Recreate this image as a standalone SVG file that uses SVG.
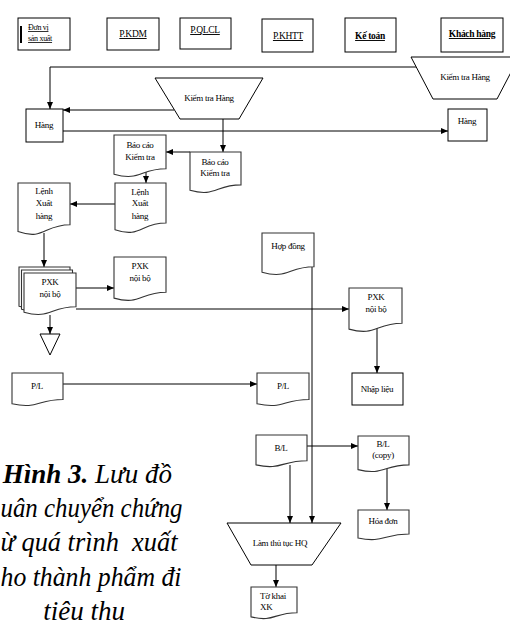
<svg xmlns="http://www.w3.org/2000/svg" width="510" height="626" viewBox="0 0 510 626">
  <style>
    .box { fill: #fff; stroke: #000; stroke-width: 1; }
    .doc { fill: #fff; stroke: #333; stroke-width: 1.1; }
    .lbl { font-family: "Liberation Serif", "Times New Roman", serif; font-size: 9px; fill: #000; text-anchor: middle; letter-spacing: -0.3px; }
    .hd { font-family: "Liberation Serif", "Times New Roman", serif; font-size: 9.5px; fill: #000; text-anchor: middle; text-decoration: underline; letter-spacing: -0.3px; }
    .bold { font-weight: bold; }
    .cap { font-family: "Liberation Serif", "Times New Roman", serif; font-size: 27px; font-style: italic; fill: #000; text-anchor: end; white-space: pre; }
    .cap-l { text-anchor: start; }
    .wire { fill: none; stroke: #000; stroke-width: 1; }
  </style>
  <defs>
    <marker id="ah" viewBox="0 0 10 10" refX="10" refY="5" markerWidth="7" markerHeight="6" markerUnits="userSpaceOnUse" orient="auto" preserveAspectRatio="none">
      <path d="M0,0 L10,5 L0,10 Z" fill="#000"/>
    </marker>
  </defs>

  <!-- department header boxes -->
  <g id="dv-san-xuat">
    <rect class="box" x="18" y="18" width="52" height="32"/>
    <rect x="20" y="26" width="2" height="17" fill="#000"/>
    <text class="hd" style="font-size:8px;text-anchor:start" x="28" y="30">Đơn vị</text>
    <text class="hd" style="font-size:8px;text-anchor:start" x="28" y="41">sản xuất</text>
  </g>
  <g id="p-kdm">
    <rect class="box" x="107" y="18" width="52" height="32"/>
    <text class="hd" x="133" y="37">P.KDM</text>
  </g>
  <g id="p-qlcl">
    <rect class="box" x="180" y="18" width="51" height="31"/>
    <text class="hd" x="205" y="33">P.QLCL</text>
  </g>
  <g id="p-khtt">
    <rect class="box" x="262" y="19" width="51" height="33"/>
    <text class="hd" x="288" y="39">P.KHTT</text>
  </g>
  <g id="ke-toan">
    <rect class="box" x="345" y="18" width="51" height="34"/>
    <text class="hd bold" x="370" y="39">Kế toán</text>
  </g>
  <g id="khach-hang">
    <rect class="box" x="441" y="18" width="62" height="34"/>
    <text class="hd bold" x="472" y="37">Khách hàng</text>
  </g>

  <!-- connectors -->
  <g id="connectors" class="wire">
    <path d="M416,67 H50 V109" marker-end="url(#ah)"/>
    <path d="M174,110 H63" marker-end="url(#ah)"/>
    <path d="M63,131 H448" marker-end="url(#ah)"/>
    <path d="M223,119 V152" marker-end="url(#ah)"/>
    <path d="M190,152 H166" marker-end="url(#ah)"/>
    <path d="M146,172 V183" marker-end="url(#ah)"/>
    <path d="M115,204 H70" marker-end="url(#ah)"/>
    <path d="M44,233 V267" marker-end="url(#ah)"/>
    <path d="M76,288 H114" marker-end="url(#ah)"/>
    <path d="M76,309 H349" marker-end="url(#ah)"/>
    <path d="M50,315 V334" marker-end="url(#ah)"/>
    <path d="M377,328 V373" marker-end="url(#ah)"/>
    <path d="M312,267 V523" marker-end="url(#ah)"/>
    <path d="M63,384 H257" marker-end="url(#ah)"/>
    <path d="M307,446 H358" marker-end="url(#ah)"/>
    <path d="M290,465 V523" marker-end="url(#ah)"/>
    <path d="M387,469 V510" marker-end="url(#ah)"/>
    <path d="M276,565 V587" marker-end="url(#ah)"/>
  </g>

  <!-- process nodes -->
  <g id="kiem-tra-kh">
    <polygon class="box" points="411,57 519,57 497,99 433,99"/>
    <text class="lbl" x="465" y="80">Kiểm tra Hàng</text>
  </g>
  <g id="kiem-tra">
    <polygon class="box" points="155,78 263,78 239,119 180,119"/>
    <text class="lbl" x="209" y="101">Kiểm tra Hàng</text>
  </g>
  <g id="hang-sx">
    <rect class="box" x="26" y="109" width="37" height="33"/>
    <text class="lbl" x="44" y="128">Hàng</text>
  </g>
  <g id="hang-kh">
    <rect class="box" x="448" y="109" width="39" height="32"/>
    <text class="lbl" x="467" y="124">Hàng</text>
  </g>

  <!-- documents: straight top, wavy bottom -->
  <g id="bao-cao-1">
    <path class="doc" d="M114,135 H166 V168.7 C140,168.7 140,181.5 114,174.2 Z"/>
    <text class="lbl" x="140" y="148">Báo cáo</text>
    <text class="lbl" x="140" y="160">Kiểm tra</text>
  </g>
  <g id="bao-cao-2">
    <path class="doc" d="M190,152 H241 V184.9 C215.5,184.9 215.5,197.4 190,190.3 Z"/>
    <text class="lbl" x="215" y="165">Báo cáo</text>
    <text class="lbl" x="215" y="176">Kiểm tra</text>
  </g>
  <g id="lenh-xh-2">
    <path class="doc" d="M115,183 H166 V223 C140.5,223 140.5,238.4 115,229.7 Z"/>
    <text class="lbl" x="140" y="195">Lệnh</text>
    <text class="lbl" x="140" y="206">Xuất</text>
    <text class="lbl" x="140" y="219">hàng</text>
  </g>
  <g id="lenh-xh-1">
    <path class="doc" d="M18,183 H70 V224.7 C44,224.7 44,240.6 18,231.6 Z"/>
    <text class="lbl" x="44" y="194">Lệnh</text>
    <text class="lbl" x="44" y="206">Xuất</text>
    <text class="lbl" x="44" y="219">hàng</text>
  </g>
  <g id="pxk-stack">
    <path class="doc" d="M19,267 H70 V300.7 C44.5,300.7 44.5,313.5 19,306.2 Z"/>
    <path class="doc" d="M21.5,270 H72.5 V303.7 C47,303.7 47,316.5 21.5,309.2 Z"/>
    <path class="doc" d="M24,273 H76 V306.7 C50,306.7 50,319.5 24,312.2 Z"/>
    <text class="lbl" x="50" y="285">PXK</text>
    <text class="lbl" x="50" y="297">nội bộ</text>
  </g>
  <g id="pxk-2">
    <path class="doc" d="M114,257 H166 V292.3 C140,292.3 140,305.7 114,298.1 Z"/>
    <text class="lbl" x="140" y="269">PXK</text>
    <text class="lbl" x="140" y="281">nội bộ</text>
  </g>
  <g id="luu-tru">
    <polygon class="box" points="40,334 60,334 50,355"/>
  </g>
  <g id="hop-dong">
    <path class="doc" d="M262,233 H314 V266.7 C288,266.7 288,279.5 262,272.2 Z"/>
    <text class="lbl" x="288" y="249">Hợp đồng</text>
  </g>
  <g id="pxk-3">
    <path class="doc" d="M349,288 H402 V323.3 C375.5,323.3 375.5,336.7 349,329.1 Z"/>
    <text class="lbl" x="376" y="300">PXK</text>
    <text class="lbl" x="376" y="312">nội bộ</text>
  </g>
  <g id="nhap-lieu">
    <rect class="box" x="352" y="373" width="51" height="32"/>
    <text class="lbl" x="377" y="392">Nhập liệu</text>
  </g>
  <g id="pl-1">
    <path class="doc" d="M12,373 H63 V399.5 C37.5,399.5 37.5,409.5 12,403.8 Z"/>
    <text class="lbl" x="37" y="389">P/L</text>
  </g>
  <g id="pl-2">
    <path class="doc" d="M257,373 H309 V399.5 C283,399.5 283,409.5 257,403.8 Z"/>
    <text class="lbl" x="283" y="389">P/L</text>
  </g>
  <g id="bl">
    <path class="doc" d="M256,435 H307 V460.7 C281.5,460.7 281.5,470.4 256,464.9 Z"/>
    <text class="lbl" x="281" y="451">B/L</text>
  </g>
  <g id="bl-copy">
    <path class="doc" d="M358,436 H409 V464.9 C383.5,464.9 383.5,475.9 358,469.6 Z"/>
    <text class="lbl" x="383" y="447">B/L</text>
    <text class="lbl" x="383" y="458">(copy)</text>
  </g>
  <g id="hoa-don">
    <path class="doc" d="M358,510 H409 V534 C383.5,534 383.5,543.2 358,538 Z"/>
    <text class="lbl" x="383" y="524">Hóa đơn</text>
  </g>
  <g id="thu-tuc-hq">
    <polygon class="box" points="227,523 341,523 312,565 251,565"/>
    <text class="lbl" x="280" y="546">Làm thủ tục HQ</text>
  </g>
  <g id="to-khai">
    <path class="doc" d="M251,587 H297 V612.7 C274,612.7 274,622.4 251,616.9 Z"/>
    <text class="lbl" style="text-anchor:start" x="260" y="599">Tờ khai</text>
    <text class="lbl" style="text-anchor:start" x="260" y="610">XK</text>
  </g>

  <!-- figure caption -->
  <g id="caption">
    <text class="cap" x="172" y="483"><tspan font-weight="bold">Hình 3.</tspan> Lưu đồ</text>
    <text class="cap cap-l" x="0.5" y="517" textLength="182" lengthAdjust="spacingAndGlyphs">uân chuyển chứng</text>
    <text class="cap cap-l" x="0.5" y="551" textLength="177" lengthAdjust="spacingAndGlyphs">ừ quá trình  xuất</text>
    <text class="cap cap-l" x="0.5" y="586" textLength="181" lengthAdjust="spacingAndGlyphs">ho thành phẩm đi</text>
    <text class="cap" x="125" y="620">tiêu thu</text>
  </g>
</svg>
